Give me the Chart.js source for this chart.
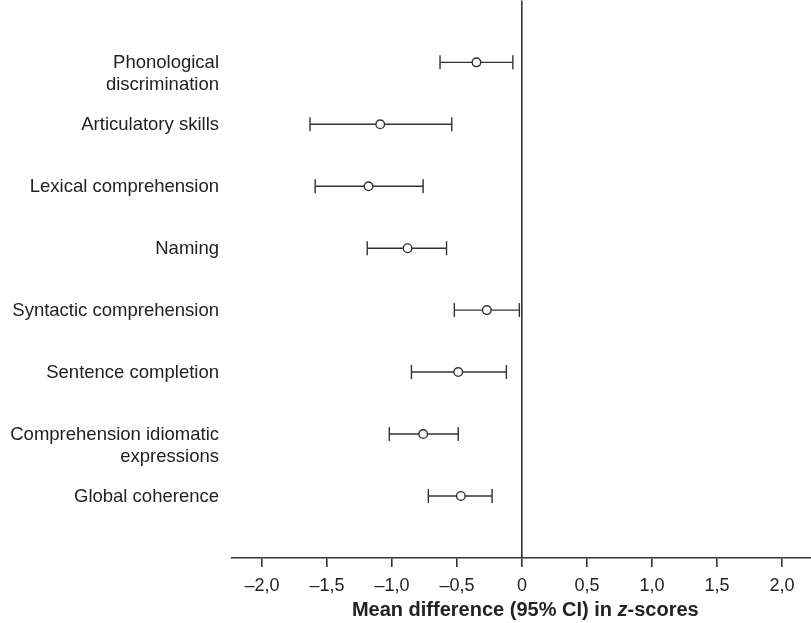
<!DOCTYPE html>
<html>
<head>
<meta charset="utf-8">
<script src="https://cdn.jsdelivr.net/npm/chart.js@4"></script>
<style>
  body { margin: 0; background: #fff; overflow: hidden; }
  #wrap { position: relative; width: 811px; height: 623px; overflow: hidden; }
  #myChart { position: absolute; left: 0; top: -8px; }
</style>
</head>
<body>
<div id="wrap"><canvas id="myChart" width="819" height="631"></canvas></div>
<script>
// outcome measures, top to bottom
var categories = [
  'Phonological\ndiscrimination',
  'Articulatory skills',
  'Lexical comprehension',
  'Naming',
  'Syntactic comprehension',
  'Sentence completion',
  'Comprehension idiomatic\nexpressions',
  'Global coherence'
];
// mean difference and 95% CI, in z-scores
var means = [-0.35, -1.09, -1.18, -0.88, -0.27, -0.49, -0.76, -0.47];
var lower = [-0.63, -1.63, -1.59, -1.19, -0.52, -0.85, -1.02, -0.72];
var upper = [-0.07, -0.54, -0.76, -0.58, -0.02, -0.12, -0.49, -0.23];
var xTicks = [-2, -1.5, -1, -0.5, 0, 0.5, 1, 1.5, 2];

var ink = '#333';

var datasets = [];
// one small line per row: lower -> upper, caps drawn as rotated line points
for (var i = 0; i < categories.length; i++) {
  datasets.push({
    type: 'line',
    data: [{x: lower[i], y: i}, {x: upper[i], y: i}],
    borderColor: ink,
    borderWidth: 1.4,
    pointStyle: 'line',
    pointRotation: 90,
    pointRadius: 7,
    pointBorderColor: ink,
    pointBorderWidth: 1.4,
    fill: false,
    order: 2
  });
}
datasets.push({
  type: 'scatter',
  data: means.map(function(m, i) { return {x: m, y: i}; }),
  pointStyle: 'circle',
  pointRadius: 4.3,
  pointBackgroundColor: '#fff',
  pointBorderColor: ink,
  pointBorderWidth: 1.4,
  order: 1
});

function fmt(v) {
  if (v === 0) return '0';
  var s = Math.abs(v).toFixed(1).replace('.', ',');
  return v < 0 ? '\u2013' + s : s;
}

var labelPlugin = {
  id: 'rowLabels',
  afterDraw: function(chart) {
    var ctx = chart.ctx;
    var y = chart.scales.y;
    ctx.save();
    ctx.fillStyle = '#222';
    ctx.font = '18.5px "Liberation Sans", Arial, sans-serif';
    ctx.textAlign = 'right';
    ctx.textBaseline = 'middle';
    categories.forEach(function(c, i) {
      var py = y.getPixelForValue(i);
      c.split('\n').forEach(function(line, k) {
        ctx.fillText(line, 219, py + 1 + k * 22);
      });
    });

    // axis title with italic z
    var parts = [
      ['Mean difference (95% CI) in ', 'bold 20px "Liberation Sans", Arial, sans-serif'],
      ['z', 'italic bold 20px "Liberation Sans", Arial, sans-serif'],
      ['-scores', 'bold 20px "Liberation Sans", Arial, sans-serif']
    ];
    var total = 0;
    parts.forEach(function(p) { ctx.font = p[1]; total += ctx.measureText(p[0]).width; });
    var a = chart.chartArea;
    var x0 = (a.left + a.right) / 2 + 4 - total / 2;
    ctx.textAlign = 'left';
    parts.forEach(function(p) {
      ctx.font = p[1];
      ctx.fillText(p[0], x0, a.bottom + 53);
      x0 += ctx.measureText(p[0]).width;
    });
    ctx.restore();
  }
};

var ctx = document.getElementById('myChart').getContext('2d');
var myChart = new Chart(ctx, {
  data: { datasets: datasets },
  plugins: [labelPlugin],
  options: {
    responsive: false,
    animation: false,
    layout: { padding: { left: 232, right: 0, top: 0, bottom: 18.5 } },
    plugins: {
      legend: { display: false },
      tooltip: { enabled: false }
    },
    scales: {
      x: {
        type: 'linear',
        min: -2.23,
        max: 2.22,
        afterBuildTicks: function(axis) {
          axis.ticks = xTicks.map(function(v) { return {value: v}; });
        },
        border: { display: true, color: ink, width: 1.6 },
        grid: {
          drawOnChartArea: true,
          color: function(c) { return c.tick && c.tick.value === 0 ? ink : 'rgba(0,0,0,0)'; },
          lineWidth: 1.6,
          drawTicks: true,
          tickLength: 9,
          tickColor: ink,
          tickWidth: 1.6
        },
        ticks: {
          padding: 8,
          color: '#222',
          font: { family: '"Liberation Sans", Arial, sans-serif', size: 18 },
          maxRotation: 0,
          autoSkip: false,
          callback: function(v) { return fmt(v); }
        }
      },
      y: {
        type: 'linear',
        min: -1,
        max: 8,
        reverse: true,
        display: false
      }
    }
  }
});
</script>
</body>
</html>
